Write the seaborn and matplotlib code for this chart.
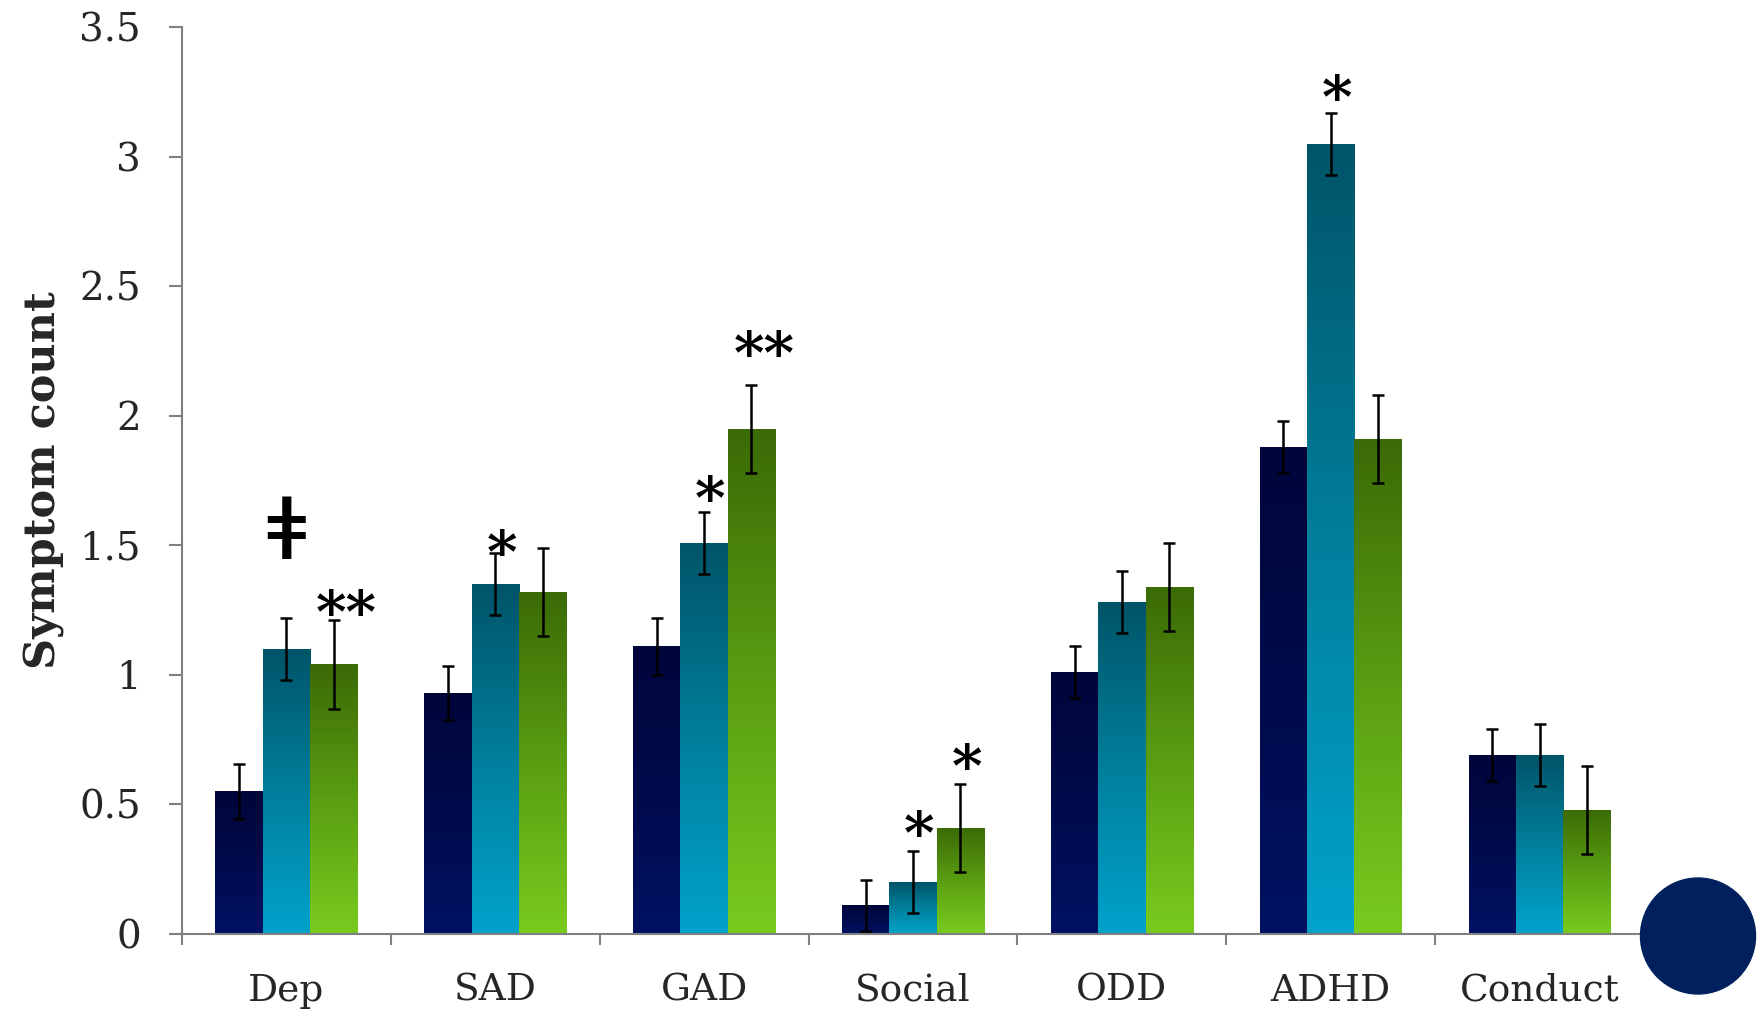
import numpy as np
import pandas as pd
import matplotlib
matplotlib.use("Agg")
import matplotlib.pyplot as plt
import seaborn as sns
from matplotlib.colors import LinearSegmentedColormap
from matplotlib.patches import Ellipse

# ---- data -------------------------------------------------------------
categories = ["Dep", "SAD", "GAD", "Social", "ODD", "ADHD", "Conduct"]
groups = ["Group A", "Group B", "Group C"]

mean_a = [0.55, 0.93, 1.11, 0.11, 1.01, 1.88, 0.69]
mean_b = [1.10, 1.35, 1.51, 0.20, 1.28, 3.05, 0.69]
mean_c = [1.04, 1.32, 1.95, 0.41, 1.34, 1.91, 0.48]

se_a = [0.105, 0.105, 0.11, 0.10, 0.10, 0.10, 0.10]
se_b = [0.12, 0.12, 0.12, 0.12, 0.12, 0.12, 0.12]
se_c = [0.17, 0.17, 0.17, 0.17, 0.17, 0.17, 0.17]

# significance marks: (category, group index, label, height of label centre)
marks = [
    ("Dep", 1, "ǂ", 1.565),
    ("Dep", 2, "**", 1.30),
    ("SAD", 1, "*", 1.53),
    ("GAD", 1, "*", 1.74),
    ("GAD", 2, "**", 2.30),
    ("Social", 1, "*", 0.448),
    ("Social", 2, "*", 0.704),
    ("ADHD", 1, "*", 3.287),
]

yticks = [0, 0.5, 1, 1.5, 2, 2.5, 3, 3.5]
ytick_labels = ["0", "0.5", "1", "1.5", "2", "2.5", "3", "3.5"]

# ---- style ------------------------------------------------------------
sns.set_style("white")
plt.rcParams["font.family"] = ["DejaVu Serif"]

means = [mean_a, mean_b, mean_c]
errs = [se_a, se_b, se_c]
df = pd.DataFrame({
    "category": np.repeat([categories], 3, axis=0).ravel(),
    "group": np.repeat(groups, len(categories)),
    "value": np.concatenate(means),
})

# bottom -> top colours of each bar gradient
gradients = [
    ["#001263", "#000b4c", "#00053a"],
    ["#00a2cb", "#007f9c", "#005468"],
    ["#79cb1f", "#5a9e12", "#3b6a06"],
]
base_colors = [g[1] for g in gradients]

fig = plt.figure(figsize=(17.65, 10.14), dpi=100)
ax = fig.add_axes([182 / 1765, 1 - 934 / 1014, (1644 - 182) / 1765, (934 - 27) / 1014])

sns.barplot(data=df, x="category", y="value", hue="group", order=categories,
            hue_order=groups, palette=base_colors, errorbar=None, width=0.68,
            gap=0, linewidth=0, legend=False, ax=ax)
bar_groups = list(ax.containers)

ramp = np.linspace(0, 1, 256).reshape(-1, 1)
for gi, container in enumerate(bar_groups):
    cmap = LinearSegmentedColormap.from_list(f"grad{gi}", gradients[gi])
    for ci, bar in enumerate(container.patches):
        x0, w, h = bar.get_x(), bar.get_width(), bar.get_height()
        im = ax.imshow(ramp, cmap=cmap, origin="lower", aspect="auto",
                       extent=(x0, x0 + w, 0, h), zorder=bar.get_zorder() + 0.1,
                       interpolation="bicubic")
        im.set_clip_path(bar)
        ax.errorbar(x0 + w / 2, means[gi][ci], yerr=errs[gi][ci], fmt="none",
                    ecolor="black", elinewidth=1.8, capsize=4, capthick=1.8,
                    zorder=5)

# significance labels
for cat, gi, label, yc in marks:
    bar = bar_groups[gi].patches[categories.index(cat)]
    xc = bar.get_x() + bar.get_width() / 2
    if label == "ǂ":
        ax.annotate(label, xy=(xc, yc), xytext=(0, -22), textcoords="offset points",
                    ha="center", va="baseline", fontsize=62, fontweight="bold",
                    color="black", zorder=6)
    else:
        shift = 0.06 if len(label) > 1 else 0.03
        ax.annotate(label, xy=(xc + shift, yc), xytext=(0, -25),
                    textcoords="offset points", ha="center", va="baseline",
                    fontsize=42, fontweight="bold", color="black", zorder=6)

ax.set_xlim(-0.5, len(categories) - 0.5)
ax.set_ylim(0, 3.5)
ax.set_yticks(yticks)
ax.set_yticklabels(ytick_labels)
ax.set_xticks(range(len(categories)))
ax.set_xticklabels(categories)
ax.set_xticks(np.arange(-0.5, len(categories), 1), minor=True)
ax.tick_params(axis="x", which="major", length=0, pad=28, labelsize=27)
ax.tick_params(axis="x", which="minor", length=8, width=1.5, color="#808080",
               direction="out", bottom=True)
ax.tick_params(axis="y", length=9.5, width=1.5, color="#808080", direction="out",
               left=True, pad=20, labelsize=28)
ax.set_xlabel("")
ax.set_ylabel("Symptom count", fontsize=31, fontweight="bold", labelpad=10)
for side in ["top", "right"]:
    ax.spines[side].set_visible(False)
for side in ["left", "bottom"]:
    ax.spines[side].set_color("#808080")
    ax.spines[side].set_linewidth(1.5)

fig.add_artist(Ellipse((1698 / 1765, 1 - 936 / 1014), 115 / 1765, 116 / 1014,
                       transform=fig.transFigure, color="#00215e", zorder=10))

fig.savefig("out.png", dpi=100, facecolor="white")
